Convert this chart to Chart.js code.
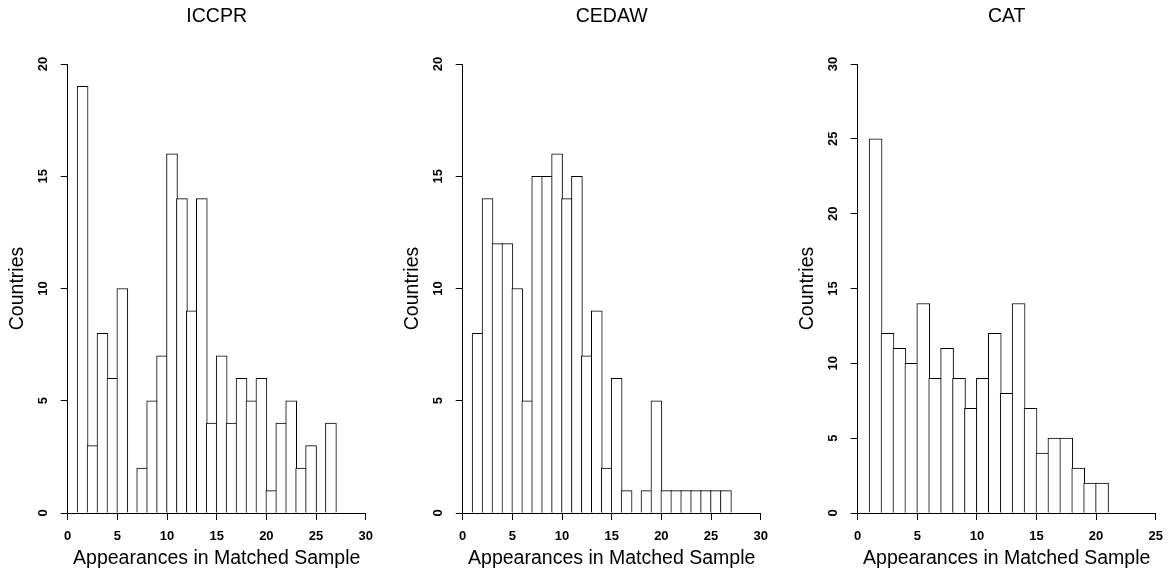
<!DOCTYPE html>
<html><head><meta charset="utf-8">
<script src="https://cdn.jsdelivr.net/npm/chart.js@4/dist/chart.umd.min.js"></script>
<style>
html,body{margin:0;padding:0;background:#fff;}
#wrap{position:relative;width:1172px;height:579px;overflow:hidden;background:#fff;}
.panel{position:absolute;top:0;width:395px;height:579px;}
canvas{display:block;}
</style></head><body>
<div id="wrap">
<div class="panel" style="left:0px"><canvas id="c1" width="395" height="579"></canvas></div>
<div class="panel" style="left:395px"><canvas id="c2" width="395" height="579"></canvas></div>
<div class="panel" style="left:790px"><canvas id="c3" width="395" height="579"></canvas></div>
</div>
<script>
// ---- data ----
const panelTitles = ['ICCPR', 'CEDAW', 'CAT'];
const xAxisTitle = 'Appearances in Matched Sample';
const yAxisTitle = 'Countries';

// left edges of the unit-width histogram bins
const iccprBins  = [1,2,3,4,5,6,7,8,9,10,11,12,13,14,15,16,17,18,19,20,21,22,23,24,25,26];
const iccprCounts = [19,3,8,6,10,0,2,5,7,16,14,9,14,4,7,4,6,5,6,1,4,5,2,3,0,4];

const cedawBins  = [1,2,3,4,5,6,7,8,9,10,11,12,13,14,15,16,17,18,19,20,21,22,23,24,25,26];
const cedawCounts = [8,14,12,12,10,5,15,15,16,14,15,7,9,2,6,1,0,1,5,1,1,1,1,1,1,1];

const catBins  = [1,2,3,4,5,6,7,8,9,10,11,12,13,14,15,16,17,18,19,20];
const catCounts = [25,12,11,10,14,9,11,9,7,9,12,8,14,7,4,5,5,3,2,2];

const iccprXTicks = [0,5,10,15,20,25,30];
const iccprYTicks = [0,5,10,15,20];
const cedawXTicks = [0,5,10,15,20,25,30];
const cedawYTicks = [0,5,10,15,20];
const catXTicks = [0,5,10,15,20,25];
const catYTicks = [0,5,10,15,20,25,30];

// ---- drawing ----
const FONT = '"Liberation Sans", Arial, Helvetica, sans-serif';
const PLOT_W = 298;

function makeChart(id, title, bins, counts, xTicks, yTicks) {
  const xMin = xTicks[0], xMax = xTicks[xTicks.length - 1];
  const yMin = yTicks[0], yMax = yTicks[yTicks.length - 1];
  const unit = PLOT_W / (xMax - xMin);
  const pts = bins.map((b, i) => ({x: b + 0.5, y: counts[i]}));
  new Chart(document.getElementById(id), {
    type: 'bar',
    data: {
      datasets: [{
        data: pts,
        backgroundColor: '#ffffff',
        borderColor: '#000000',
        borderWidth: 1,
        barThickness: unit + 1,
        borderSkipped: 'start'
      }]
    },
    options: {
      responsive: false,
      animation: false,
      events: [],
      layout: {padding: {left: 0, right: 29.3, top: 0, bottom: 0}},
      plugins: {
        legend: {display: false},
        tooltip: {enabled: false},
        title: {
          display: true,
          text: title,
          fullSize: false,
          color: '#000',
          font: {family: FONT, size: 19.5, weight: 'normal', lineHeight: 1.2},
          padding: {top: 4.5, bottom: 36.1}
        }
      },
      scales: {
        x: {
          type: 'linear',
          min: xMin, max: xMax,
          offset: false,
          afterFit: s => { s.height = 66; },
          afterBuildTicks: s => { s.ticks = xTicks.map(v => ({value: v})); },
          grid: {display: true, drawOnChartArea: false, drawTicks: true, tickLength: 7, color: '#000', tickColor: '#000', offset: false},
          border: {display: true, color: '#000', width: 1},
          ticks: {color: '#000', padding: 9, autoSkip: false, maxRotation: 0, minRotation: 0,
                  font: {family: FONT, size: 13, weight: 'bold'}},
          title: {display: true, text: xAxisTitle, color: '#000',
                  font: {family: FONT, size: 19.5, weight: 'normal', lineHeight: 1.2},
                  padding: {top: 0, bottom: 9}}
        },
        y: {
          type: 'linear',
          min: yMin, max: yMax,
          afterFit: s => { s.width = 67.7; },
          afterBuildTicks: s => { s.ticks = yTicks.map(v => ({value: v})); },
          grid: {display: true, drawOnChartArea: false, drawTicks: true, tickLength: 7, color: '#000', tickColor: '#000'},
          border: {display: true, color: '#000', width: 1},
          ticks: {color: '#000', padding: 10, autoSkip: false, minRotation: 90, maxRotation: 90, crossAlign: 'center',
                  font: {family: FONT, size: 13, weight: 'bold'}},
          title: {display: true, text: yAxisTitle, color: '#000',
                  font: {family: FONT, size: 19.5, weight: 'normal', lineHeight: 1.2},
                  padding: {top: 6, bottom: 0}}
        }
      }
    }
  });
}

makeChart('c1', panelTitles[0], iccprBins, iccprCounts, iccprXTicks, iccprYTicks);
makeChart('c2', panelTitles[1], cedawBins, cedawCounts, cedawXTicks, cedawYTicks);
makeChart('c3', panelTitles[2], catBins, catCounts, catXTicks, catYTicks);
</script>
</body></html>
